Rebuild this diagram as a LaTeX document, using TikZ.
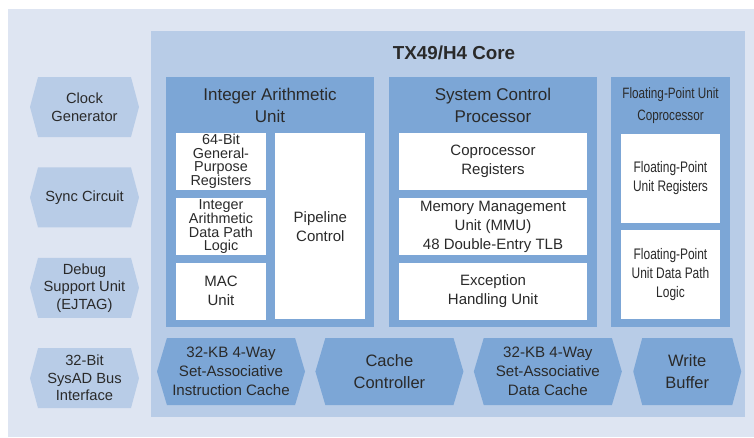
\documentclass[tikz,border=0pt]{standalone}
\usepackage{fontspec}
\setmainfont{Liberation Sans}
\newfontfamily\narrowsf[FakeStretch=0.78]{Liberation Sans}
\usetikzlibrary{positioning, calc, shapes.symbols}
\definecolor{pagebg}{HTML}{DEE5F2}
\definecolor{corebg}{HTML}{B8CCE7}
\definecolor{unitbg}{HTML}{7CA6D6}
\definecolor{inktxt}{HTML}{2A2A2A}

\begin{document}
\begin{tikzpicture}[
        x=1pt, y=-1pt,
        node distance=7.5pt and 9pt,
        unit/.style={
            rectangle, fill=unitbg, inner sep=0pt,
            minimum width=208pt, minimum height=250pt
        },
        hdr/.style={align=center, text=inktxt, font=\fontsize{17}{22}\selectfont},
        cell/.style={
            rectangle, fill=white, inner sep=0pt,
            minimum width=90pt, minimum height=57pt,
            align=center, text=inktxt, font=\fontsize{15}{19}\selectfont
        },
        tightcell/.style={cell, font=\fontsize{14.4}{13.4}\selectfont},
        widecell/.style={cell, minimum width=188pt},
        fpcell/.style={cell, minimum width=99pt, minimum height=89pt,
            font=\narrowsf\fontsize{15.3}{19}\selectfont},
        sidehex/.style={
            signal, signal to=east and west, signal pointer angle=150,
            fill=corebg, inner sep=0pt, minimum width=109pt, minimum height=60pt,
            align=center, text=inktxt, font=\fontsize{14.7}{17.5}\selectfont
        },
        cachehex/.style={
            signal, signal to=east and west, signal pointer angle=147,
            fill=unitbg, inner sep=0pt, minimum width=148pt, minimum height=67pt,
            align=center, text=inktxt, font=\fontsize{15.1}{19}\selectfont
        },
        bighex/.style={cachehex, font=\fontsize{16.5}{22}\selectfont}
    ]
    \useasboundingbox (0,0) rectangle (754,437);
    \fill[white] (0,0) rectangle (754,437);
    \fill[pagebg] (8,9) rectangle (754,437);

    % === Core ===
    \node[rectangle, fill=corebg, inner sep=0pt, minimum width=594pt, minimum height=386pt] (core) at (448,224) {};
    \node[font=\bfseries\fontsize{18.8}{22}\selectfont, text=inktxt] (title) at (454,53) {TX49/H4 Core};

    % === Integer Arithmetic Unit ===
    \node[unit] (iau) at (270,202) {};
    \node[hdr] (iauh) at ($(iau.north)+(0,28.5)$) {Integer Arithmetic\\Unit};
    \node[tightcell] (gpr) at (221,161.5) {64-Bit\\General-\\Purpose\\Registers};
    \node[tightcell, below=of gpr] (dpl) {Integer\\Arithmetic\\Data Path\\Logic};
    \node[cell, below=of dpl] (mac) {MAC\\Unit};
    \node[cell, minimum height=186pt, right=of dpl] (pipe) {Pipeline\\Control};

    % === System Control Processor ===
    \node[unit] (scp) at (493,202) {};
    \node[hdr] (scph) at ($(scp.north)+(0,28.5)$) {System Control\\Processor};
    \node[widecell] (cpr) at (493,161.5) {Coprocessor\\Registers};
    \node[widecell, below=of cpr] (mmu) {Memory Management\\Unit (MMU)\\48 Double-Entry TLB};
    \node[widecell, below=of mmu] (exc) {Exception\\Handling Unit};

    % === Floating-Point Unit ===
    \node[unit, minimum width=119pt] (fpu) at (670.5,202) {};
    \node[hdr, font=\narrowsf\fontsize{15}{22}\selectfont] (fpuh) at ($(fpu.north)+(0,28.5)$) {Floating-Point Unit\\Coprocessor};
    \node[fpcell] (fpr) at (670.5,178.5) {Floating-Point\\Unit Registers};
    \node[fpcell, below=7pt of fpr] (fpd) {Floating-Point\\Unit Data Path\\Logic};

    % === Side blocks ===
    \node[sidehex] (clk) at (84.5,107) {Clock\\Generator};
    \node[sidehex, below=30pt of clk] (sync) {Sync Circuit};
    \node[sidehex, below=30pt of sync] (dbg) {Debug\\Support Unit\\(EJTAG)};
    \node[sidehex, below=30pt of dbg] (bus) {32-Bit\\SysAD Bus\\Interface};

    % === Cache row ===
    \node[cachehex] (icache) at (231,371.5) {32-KB 4-Way\\Set-Associative\\Instruction Cache};
    \node[bighex, right=10pt of icache] (cctl) {Cache\\Controller};
    \node[cachehex, right=10pt of cctl] (dcache) {32-KB 4-Way\\Set-Associative\\Data Cache};
    \node[bighex, minimum width=108pt, signal pointer angle=150, right=11pt of dcache] (wbuf) {Write\\Buffer};
\end{tikzpicture}
\end{document}
